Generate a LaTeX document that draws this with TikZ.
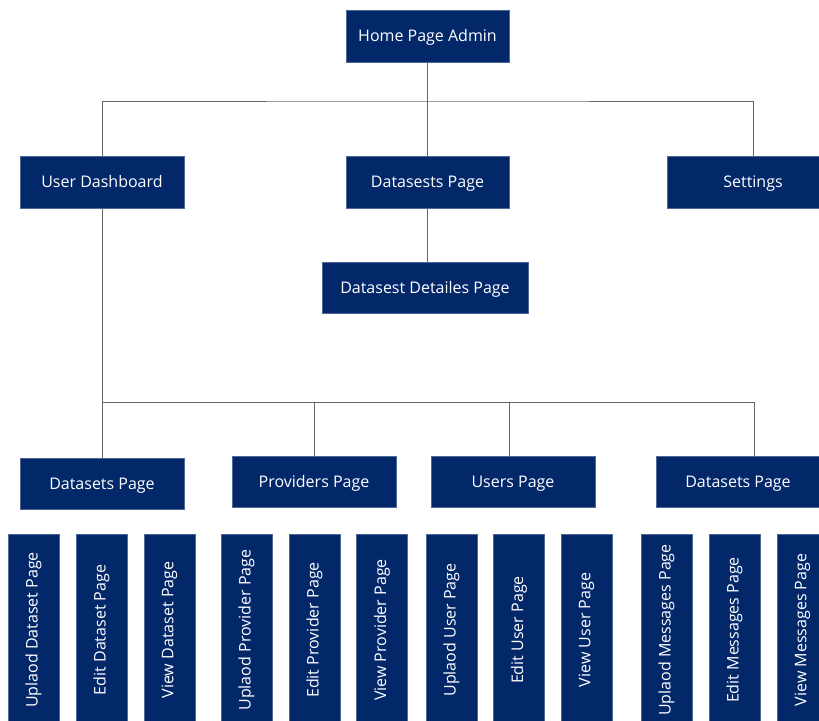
\documentclass[tikz,border=0pt]{standalone}
\usepackage{fontspec}
\setmainfont{Open Sans}
\usetikzlibrary{calc}
\definecolor{navy}{HTML}{03286A}
\definecolor{linegray}{HTML}{666666}
\newcommand{\vtxt}[1]{\rotatebox{90}{#1}}
\begin{document}
\begin{tikzpicture}[x=1pt,y=-1pt,
  box/.style={fill=navy,draw=navy!70!white,line width=0.4pt,text=white,inner sep=0pt,
    font=\fontsize{16}{18}\selectfont,text height=11.4pt,text depth=0pt},
  topbox/.style={box,minimum width=163pt,minimum height=52pt},
  midbox/.style={box,minimum width=164pt,minimum height=51pt},
  leaf/.style={box,minimum width=51pt,minimum height=192pt,text height=,text depth=},
  conn/.style={draw=linegray,line width=0.7pt}]
\path[use as bounding box] (0,0) rectangle (819,720);
\clip (0,0) rectangle (819,720);
% level 0-1
\node[topbox] (home) at (427.5,36) {Home Page Admin};
\node[topbox,minimum width=164pt] (ud) at (102,182) {User Dashboard};
\node[topbox] (dp) at (427.5,182) {Datasests Page};
\node[topbox,minimum width=172pt] (set) at (753,182) {Settings};
\node[box,minimum width=206pt,minimum height=51pt] (ddp) at (425,287.5) {Datasest Detailes Page};
% level 2
\node[midbox] (ds1) at (102,483.5) {Datasets Page};
\node[midbox] (pp) at (314,482) {Providers Page};
\node[midbox] (up) at (513,482) {Users Page};
\node[midbox] (ds2) at (738,482) {Datasets Page};
% leaves
\node[leaf] (l1) at (33.5,630) {\vtxt{Uplaod Dataset Page}};
\node[leaf] (l2) at (101.5,630) {\vtxt{Edit Dataset Page}};
\node[leaf] (l3) at (169.5,630) {\vtxt{View Dataset Page}};
\node[leaf] (l4) at (246.5,630) {\vtxt{Uplaod Provider Page}};
\node[leaf] (l5) at (314.5,630) {\vtxt{Edit Provider Page}};
\node[leaf] (l6) at (382,630) {\vtxt{View Provider Page}};
\node[leaf] (l7) at (451.5,630) {\vtxt{Uplaod User Page}};
\node[leaf] (l8) at (519,630) {\vtxt{Edit User Page}};
\node[leaf] (l9) at (586.5,630) {\vtxt{View User Page}};
\node[leaf] (l10) at (666.5,630) {\vtxt{Uplaod Messages Page}};
\node[leaf] (l11) at (734.5,630) {\vtxt{Edit Messages Page}};
\node[leaf] (l12) at (802.5,630) {\vtxt{View Messages Page}};
% bus coordinates
\coordinate (bus1) at (427.5,101);
\coordinate (bus2) at (102,402);
\coordinate (ds2top) at ($(ds2.north)+(16,0)$);
\coordinate (uptop) at ($(up.north)+(-4,0)$);
% connectors
\draw[conn] (home.south) -- (bus1);
\draw[conn] (ud.north) |- (bus1) -| (set.north);
\draw[conn] (bus1) -- (dp.north);
\draw[conn] (dp.south) -- (ddp.north -| dp.south);
\draw[conn] (ud.south) -- (bus2) -| (ds2top);
\draw[conn] (bus2) -- (ds1.north);
\draw[conn] (pp.north) -- (pp.north |- bus2);
\draw[conn] (uptop) -- (uptop |- bus2);
\foreach \p/\l/\dx in {ds1/l1/-0.5,ds1/l2/-3.5,ds1/l3/-5.5,pp/l4/0.5,pp/l5/-3.5,pp/l6/-5,up/l7/-0.5,up/l8/-4,up/l9/-4.5,ds2/l10/0.5,ds2/l11/-3.5,ds2/l12/-5.5}{
  \draw[conn] ($(\l.north)+(\dx,0)$) -- ($(\l.north)+(\dx,0)$ |- \p.south);
}
\end{tikzpicture}
\end{document}
